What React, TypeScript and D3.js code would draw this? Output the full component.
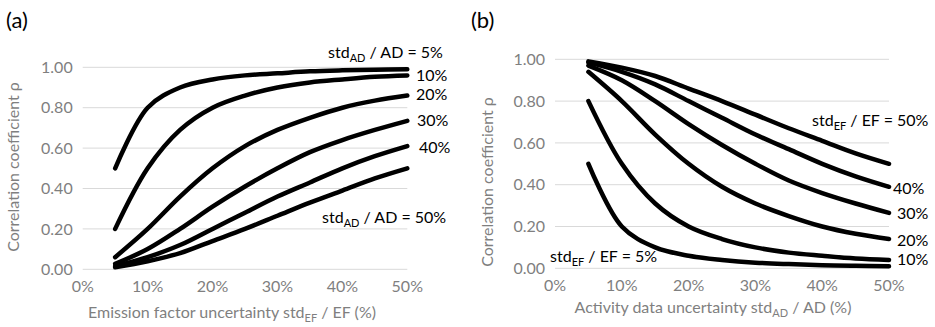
import React from "react";
import * as d3 from "d3";

const xVals = [5, 10, 15, 20, 25, 30, 35, 40, 45, 50];

// Panel (a): rho vs EF uncertainty, for std_AD/AD levels
const aAD5 = [0.5, 0.8, 0.9, 0.94, 0.96, 0.97, 0.98, 0.985, 0.988, 0.99];
const aAD10 = [0.2, 0.5, 0.69, 0.8, 0.86, 0.9, 0.925, 0.94, 0.953, 0.96];
const aAD20 = [0.06, 0.2, 0.36, 0.5, 0.61, 0.69, 0.75, 0.8, 0.835, 0.86];
const aAD30 = [0.027, 0.1, 0.2, 0.31, 0.41, 0.5, 0.58, 0.64, 0.69, 0.735];
const aAD40 = [0.015, 0.06, 0.12, 0.2, 0.28, 0.36, 0.43, 0.5, 0.56, 0.61];
const aAD50 = [0.01, 0.04, 0.08, 0.14, 0.2, 0.265, 0.33, 0.39, 0.45, 0.5];

// Panel (b): rho vs AD uncertainty, for std_EF/EF levels
const bEF5 = [0.5, 0.2, 0.1, 0.06, 0.04, 0.027, 0.02, 0.015, 0.012, 0.01];
const bEF10 = [0.8, 0.5, 0.31, 0.2, 0.14, 0.1, 0.075, 0.06, 0.047, 0.04];
const bEF20 = [0.94, 0.8, 0.64, 0.5, 0.39, 0.31, 0.25, 0.2, 0.165, 0.14];
const bEF30 = [0.97, 0.9, 0.8, 0.69, 0.59, 0.5, 0.42, 0.36, 0.31, 0.265];
const bEF40 = [0.985, 0.94, 0.88, 0.8, 0.72, 0.64, 0.57, 0.5, 0.44, 0.39];
const bEF50 = [0.99, 0.96, 0.92, 0.86, 0.8, 0.735, 0.67, 0.61, 0.55, 0.5];

const xTicks = [0, 10, 20, 30, 40, 50];
const yTicks = [0, 0.2, 0.4, 0.6, 0.8, 1.0];

const FONT = "Lato, 'Open Sans', sans-serif";
const GRAY = "#7f7f7f";

type Label = { x: number; y: number; parts: [string, string, string] | string; anchor?: string };

function Sub({ parts }: { parts: [string, string, string] | string }) {
  if (typeof parts === "string") return <>{parts}</>;
  return (
    <>
      {parts[0]}
      <tspan fontSize={11} dy={4}>{parts[1]}</tspan>
      <tspan dy={-4}>{parts[2]}</tspan>
    </>
  );
}

function Panel(props: {
  ox: number;
  x0: number; x1: number; y0: number; y1: number;
  series: number[][];
  letter: string;
  xTitle: [string, string, string];
  xTitleX: number; xTitleY: number;
  yTitleX: number; yTitleY: number;
  labels: Label[];
}) {
  const { x0, x1, y0, y1 } = props;
  const x = d3.scaleLinear().domain([0, 50]).range([x0, x1]);
  const y = d3.scaleLinear().domain([0, 1]).range([y0, y1]);
  const line = d3
    .line<number>()
    .x((_, i) => x(xVals[i]))
    .y((d) => y(d))
    .curve(d3.curveCatmullRom.alpha(0.5));
  return (
    <g fontFamily={FONT}>
      <text x={props.ox + 6} y={28} fontSize={22} fill="#000">{props.letter}</text>
      {yTicks.map((t) => (
        <g key={t}>
          <line x1={x0} x2={x1} y1={y(t)} y2={y(t)} stroke="#d9d9d9" strokeWidth={1} />
          <text x={x0 - 10} y={y(t)} dy="0.35em" textAnchor="end" fontSize={16} fill={GRAY}>
            {t.toFixed(2)}
          </text>
        </g>
      ))}
      {xTicks.map((t) => (
        <text key={t} x={x(t)} y={y0 + 23} textAnchor="middle" fontSize={16} fill={GRAY}>
          {t + "%"}
        </text>
      ))}
      {props.series.map((s, i) => (
        <path key={i} d={line(s) || ""} fill="none" stroke="#000" strokeWidth={4.5} strokeLinecap="round" />
      ))}
      <text x={props.xTitleX} y={props.xTitleY} textAnchor="middle" fontSize={16} fill={GRAY}>
        <Sub parts={props.xTitle} />
      </text>
      <text
        transform={`translate(${props.yTitleX},${props.yTitleY}) rotate(-90)`}
        textAnchor="middle"
        fontSize={16}
        fill={GRAY}
      >
        Correlation coefficient ρ
      </text>
      {props.labels.map((l, i) => (
        <text key={i} x={l.x} y={l.y} dy="0.35em" textAnchor={l.anchor || "start"} fontSize={16} fill="#000">
          <Sub parts={l.parts} />
        </text>
      ))}
    </g>
  );
}

export default function App() {
  return (
    <svg width={935} height={327} style={{ display: "block", position: "absolute", left: 0, top: 0 }}>
      <rect width={935} height={327} fill="#fff" />
      <Panel
        ox={0}
        x0={82.7} x1={407.3} y0={269.3} y1={67.3}
        series={[aAD5, aAD10, aAD20, aAD30, aAD40, aAD50]}
        letter="(a)"
        xTitle={["Emission factor uncertainty std", "EF", " / EF (%)"]}
        xTitleX={232} xTitleY={318}
        yTitleX={19} yTitleY={167}
        labels={[
          { x: 328, y: 52, parts: ["std", "AD", " / AD = 5%"] },
          { x: 416, y: 75, parts: "10%" },
          { x: 416, y: 94, parts: "20%" },
          { x: 417, y: 120, parts: "30%" },
          { x: 419, y: 147, parts: "40%" },
          { x: 322, y: 217, parts: ["std", "AD", " / AD = 50%"] },
        ]}
      />
      <Panel
        ox={465}
        x0={555} x1={889} y0={268.3} y1={59.3}
        series={[bEF5, bEF10, bEF20, bEF30, bEF40, bEF50]}
        letter="(b)"
        xTitle={["Activity data uncertainty std", "AD", " / AD (%)"]}
        xTitleX={713} xTitleY={313}
        yTitleX={493} yTitleY={182}
        labels={[
          { x: 812, y: 120, parts: ["std", "EF", " / EF = 50%"] },
          { x: 893, y: 188, parts: "40%" },
          { x: 897, y: 213, parts: "30%" },
          { x: 897, y: 240, parts: "20%" },
          { x: 897, y: 259, parts: "10%" },
          { x: 550, y: 256, parts: ["std", "EF", " / EF = 5%"] },
        ]}
      />
    </svg>
  );
}
